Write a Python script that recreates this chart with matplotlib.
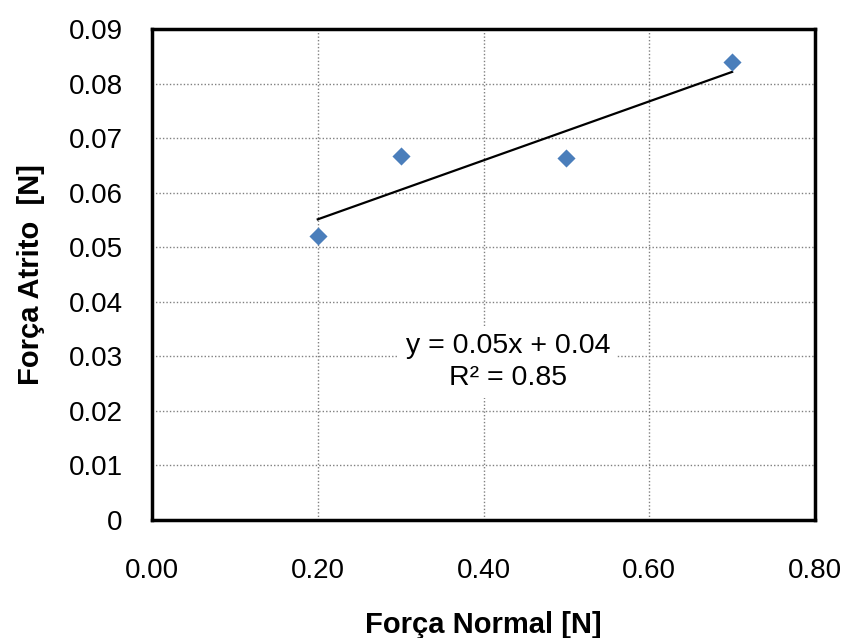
import numpy as np
import matplotlib
matplotlib.use("Agg")
import matplotlib.pyplot as plt

plt.rcParams['font.family'] = ['Liberation Sans', 'DejaVu Sans']

# dados medidos
forca_normal = [0.2, 0.3, 0.5, 0.7]
forca_atrito = [0.0521, 0.0668, 0.0663, 0.0839]
x_ticks = [0.0, 0.2, 0.4, 0.6, 0.8]
y_ticks = [0, 0.01, 0.02, 0.03, 0.04, 0.05, 0.06, 0.07, 0.08, 0.09]
eq_text = "y = 0.05x + 0.04\nR² = 0.85"

fig = plt.figure(figsize=(8.47, 6.38), dpi=100)
ax = fig.add_axes([152 / 847, 118 / 638, 663 / 847, 491 / 638])

# linha de tendencia linear
coef = np.polyfit(forca_normal, forca_atrito, 1)
xs = np.array([min(forca_normal), max(forca_normal)])
ax.plot(xs, np.polyval(coef, xs), color='black', lw=1.6, zorder=3)

ax.scatter(forca_normal, forca_atrito, marker='D', s=85, color='#4a7ebb',
           zorder=4, linewidths=0)

ax.set_xlim(0, 0.8)
ax.set_ylim(0, 0.09)
ax.set_xticks(x_ticks)
ax.set_xticklabels(["%.2f" % v for v in x_ticks])
ax.set_yticks(y_ticks)
ax.set_yticklabels(["0"] + ["%.2f" % v for v in y_ticks[1:]])
ax.tick_params(length=0, labelsize=20)
ax.tick_params(axis='x', pad=27)
ax.tick_params(axis='y', pad=21)

ax.grid(True, color='#808080', linestyle=(0, (1, 1.5)), lw=1)
ax.set_axisbelow(True)
for s in ax.spines.values():
    s.set_linewidth(2.5)
    s.set_color('black')

ax.set_xlabel("Força Normal [N]", fontsize=21, fontweight='bold', labelpad=20)
ax.set_ylabel("Força Atrito  [N]", fontsize=21, fontweight='bold', labelpad=17)

ax.text(0.43, 0.0290, eq_text, ha='center', va='center', fontsize=20.5,
        linespacing=1.3, zorder=5,
        bbox=dict(facecolor='white', edgecolor='none', pad=5))

fig.savefig("out.png", dpi=100)
